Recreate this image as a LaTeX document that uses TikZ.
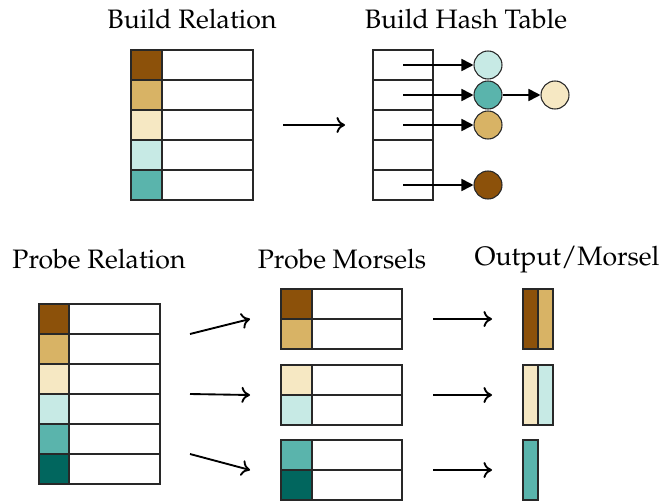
\documentclass[tikz,border=0pt]{standalone}
\usepackage[T1]{fontenc}
\usepackage{mathpazo}
\usepackage{tikz}
\usetikzlibrary{positioning,arrows.meta}
\definecolor{keybrown}{HTML}{8C510A}
\definecolor{keytan}{HTML}{D8B365}
\definecolor{keycream}{HTML}{F6E8C3}
\definecolor{keymint}{HTML}{C7EAE5}
\definecolor{keyteal}{HTML}{5AB4AC}
\definecolor{keypine}{HTML}{01665E}
\definecolor{edgegray}{RGB}{40, 40, 40}

\begin{document}
\begin{tikzpicture}[
  x=0.375pt, y=-0.375pt,
  key/.style    = {rectangle, draw=edgegray, line width=0.4pt, inner sep=0pt, outer sep=0pt,
                   minimum width=11.625pt, minimum height=11.25pt},
  cell/.style   = {key, fill=white, minimum width=34.125pt},
  slot/.style   = {key, fill=white, minimum width=22.5pt},
  outcol/.style = {key, minimum width=5.625pt, minimum height=22.5pt},
  entry/.style  = {circle, draw=edgegray, line width=0.4pt, inner sep=0pt, minimum size=10.5pt},
  title/.style  = {font=\fontsize{10}{12}\selectfont, anchor=base, inner sep=0pt},
  flow/.style   = {-{Computer Modern Rightarrow[length=3.2pt, width=6pt]}, line width=0.7pt},
  link/.style   = {-{Triangle[length=4.5pt, width=4.5pt]}, line width=0.65pt}
]
  \useasboundingbox (0,0) rectangle (662,503);

  % ---- Titles ----
  \node[title] (tbuild) at (192, 28)  {Build Relation};
  \node[title] (thash)  at (466, 28)  {Build Hash Table};
  \node[title] (tprobe) at (99, 268)  {Probe Relation};
  \node[title] (tmors)  at (342, 268) {Probe Morsels};
  \node[title] (tout)   at (567, 265) {Output/Morsel};

  % ---- Build relation ----
  \foreach \i/\c in {1/keybrown, 2/keytan, 3/keycream, 4/keymint, 5/keyteal} {
    \node[key, fill=\c] (bk\i) at (146.5, 35+30*\i) {};
    \node[cell, right=0pt of bk\i] (b\i) {};
  }

  % ---- Hash table ----
  \foreach \i in {1,...,5}
    \node[slot] (h\i) at (403, 35+30*\i) {};

  \node[entry, fill=keymint]  (e1) at (488, 65)  {};
  \node[entry, fill=keyteal]  (e2) at (488, 95)  {};
  \node[entry, fill=keytan]   (e3) at (488, 125) {};
  \node[entry, fill=keybrown] (e5) at (488, 185) {};
  \node[entry, fill=keycream] (e6) at (555, 95)  {};

  \draw[link] (h1.center) -- (e1);
  \draw[link] (h2.center) -- (e2);
  \draw[link] (h3.center) -- (e3);
  \draw[link] (h5.center) -- (e5);
  \draw[link] (e2) -- (e6);

  \draw[flow] ([xshift=11.25pt]b3.east) -- ([xshift=-10.5pt]h3.west);

  % ---- Probe relation ----
  \foreach \i/\c in {1/keybrown, 2/keytan, 3/keycream, 4/keymint, 5/keyteal, 6/keypine} {
    \node[key, fill=\c, minimum width=11.25pt] (pk\i) at (54, 289+30*\i) {};
    \node[cell, right=0pt of pk\i] (p\i) {};
  }

  % ---- Probe morsels ----
  \foreach \i/\c/\y in {1/keybrown/304, 2/keytan/334, 3/keycream/380, 4/keymint/410,
                        5/keyteal/455, 6/keypine/485} {
    \node[key, fill=\c] (mk\i) at (296.5, \y) {};
    \node[cell, right=0pt of mk\i, minimum width=33.75pt] (m\i) {};
  }

  % ---- Output per morsel ----
  \node[outcol, fill=keybrown] (o1) at (530.5, 319) {};
  \node[outcol, fill=keytan]   (o2) at (545.5, 319) {};
  \node[outcol, fill=keycream] (o3) at (530.5, 395) {};
  \node[outcol, fill=keymint]  (o4) at (545.5, 395) {};
  \node[outcol, fill=keyteal]  (o5) at (530.5, 470) {};

  % ---- Arrows ----
  \draw[flow] ([xshift=11.25pt]p1.south east) -- ([xshift=-11.625pt]mk1.south west);
  \draw[flow] ([xshift=11.25pt]p3.south east) -- ([xshift=-11.625pt]mk3.south west);
  \draw[flow] ([xshift=11.25pt]p5.south east) -- ([xshift=-11.625pt]mk5.south west);

  \draw[flow] ([xshift=11.625pt]m1.south east) -- ([xshift=-11.625pt]o1.west);
  \draw[flow] ([xshift=11.625pt]m3.south east) -- ([xshift=-11.625pt]o3.west);
  \draw[flow] ([xshift=11.625pt]m5.south east) -- ([xshift=-11.625pt]o5.west);
\end{tikzpicture}
\end{document}
